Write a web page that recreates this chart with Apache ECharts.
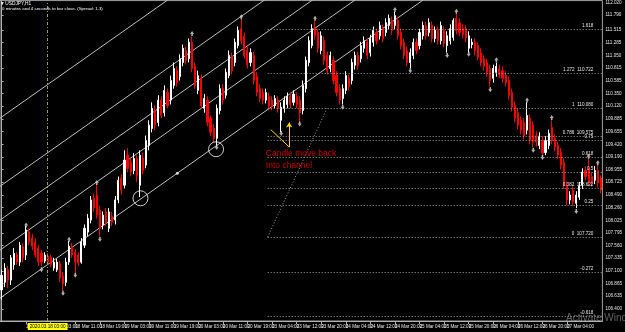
<!DOCTYPE html>
<html>
<head>
<meta charset="utf-8">
<title>USDJPY,H1</title>
<script src="https://cdn.jsdelivr.net/npm/echarts@6/dist/echarts.min.js"></script>
<style>
  html, body { margin: 0; padding: 0; background: #000; }
  #chart { width: 625px; height: 332px; }
</style>
</head>
<body>
<div id="chart"></div>
<script>
// USDJPY H1, 17 Mar 2020 11:00 .. 27 Mar 2020, [open, close, low, high]
var candles = [
  [106.75,107.02,106.57,107.12],[106.89,107.15,106.80,107.24],[107.12,106.93,106.78,107.19],[106.93,107.34,106.84,107.39],
  [107.21,107.42,107.12,107.52],[107.39,107.26,107.21,107.44],[107.26,107.57,107.19,107.63],[107.54,107.34,107.26,107.61],
  [107.39,107.85,107.30,107.92],[107.81,107.63,107.57,107.88],[107.70,107.55,107.48,107.77],[107.63,107.39,107.34,107.70],
  [107.52,107.26,107.19,107.57],[107.42,107.26,107.19,107.48],[107.28,107.39,107.24,107.44],[107.37,107.26,107.22,107.42],
  [107.34,107.22,107.17,107.39],[107.15,107.26,107.10,107.34],[107.12,107.26,107.08,107.32],[107.23,106.97,106.89,107.28],
  [107.00,106.86,106.73,107.08],[106.89,107.26,106.82,107.34],[107.26,107.55,107.21,107.65],[107.54,107.39,107.34,107.61],
  [107.44,107.26,107.06,107.50],[107.39,107.24,107.19,107.44],[107.26,107.63,107.23,107.70],[107.57,107.88,107.52,107.95],
  [107.81,108.06,107.74,108.14],[108.03,108.40,107.97,108.47],[108.43,108.25,108.18,108.52],[108.49,108.12,108.06,108.69],
  [108.21,107.88,107.74,108.29],[107.94,108.12,107.86,108.19],[108.18,107.99,107.92,108.25],[107.88,108.18,107.81,108.25],
  [108.10,107.99,107.92,108.18],[108.03,108.40,107.95,108.47],[108.40,108.76,108.34,108.83],[108.80,108.58,108.50,108.87],
  [108.67,109.13,108.61,109.31],[109.22,108.98,108.91,109.35],[109.09,108.91,108.83,109.16],[108.94,109.16,108.87,109.26],
  [109.16,108.85,108.73,109.22],[108.67,109.22,108.45,109.31],[109.16,108.94,108.87,109.27],[109.04,109.49,108.98,109.58],
  [109.40,109.77,109.31,109.86],[109.71,110.08,109.64,110.19],[110.04,109.77,109.68,110.13],[109.82,110.23,109.75,110.32],
  [110.23,109.95,109.90,110.30],[110.00,110.41,109.93,110.50],[110.37,110.13,110.08,110.44],[110.23,110.59,110.15,110.68],
  [110.50,110.81,110.44,110.92],[110.77,110.55,110.48,110.85],[110.66,110.99,110.59,111.07],[110.92,111.18,110.85,111.25],
  [111.14,110.96,110.88,111.21],[110.99,111.29,110.92,111.36],[111.29,110.81,110.74,111.40],[110.85,110.50,110.44,110.92],
  [110.41,110.68,110.34,110.77],[110.63,110.13,110.08,110.70],[110.08,110.26,110.00,110.34],[110.23,109.82,109.75,110.30],
  [109.90,109.64,109.57,109.95],[109.71,109.53,109.46,109.79],[109.53,110.08,109.38,110.15],[110.04,110.44,109.97,110.52],
  [110.44,110.23,110.15,110.52],[110.32,110.74,110.26,110.81],[110.68,111.05,110.63,111.14],[111.03,110.77,110.70,111.10],
  [110.92,111.29,110.85,111.36],[111.23,111.51,111.18,111.58],[111.54,111.32,111.25,111.73],[111.40,111.05,110.99,111.47],
  [111.14,110.88,110.81,111.21],[110.92,111.10,110.85,111.18],[111.05,110.59,110.52,111.12],[110.66,110.37,110.30,110.74],
  [110.44,110.26,110.19,110.52],[110.37,110.23,110.15,110.44],[110.23,110.37,110.17,110.44],[110.30,110.12,110.04,110.37],
  [110.23,110.12,110.04,110.30],[110.13,110.26,110.08,110.32],[110.23,110.08,110.00,110.30],[109.86,110.10,109.64,110.19],
  [110.08,110.23,110.00,110.30],[110.15,110.30,110.08,110.37],[110.30,110.15,110.08,110.37],[110.19,110.34,110.13,110.41],
  [110.30,110.15,110.08,110.37],[110.23,110.00,109.82,110.30],[110.04,110.50,109.97,110.59],[110.44,110.96,110.37,111.03],
  [110.92,111.32,110.85,111.40],[111.23,111.54,111.18,111.62],[111.54,111.41,111.34,111.69],[111.47,111.18,111.10,111.54],
  [111.14,111.41,111.07,111.49],[111.32,110.96,110.88,111.40],[111.05,110.77,110.70,111.12],[110.81,111.05,110.74,111.12],
  [110.96,110.59,110.52,111.03],[110.68,110.37,110.30,110.76],[110.44,110.23,110.15,110.52],[110.26,110.44,110.15,110.52],
  [110.41,110.68,110.34,110.76],[110.63,110.48,110.41,110.70],[110.59,110.92,110.52,110.99],[110.87,111.05,110.79,111.12],
  [111.05,110.87,110.79,111.12],[110.99,111.23,110.92,111.30],[111.18,111.32,111.10,111.40],[111.29,111.05,110.98,111.36],
  [111.10,111.36,111.03,111.43],[111.29,111.51,111.21,111.58],[111.47,111.32,111.25,111.54],[111.41,111.60,111.34,111.67],
  [111.54,111.36,111.29,111.62],[111.47,111.65,111.40,111.73],[111.60,111.73,111.53,111.80],[111.69,111.51,111.43,111.76],
  [111.60,111.78,111.53,111.85],[111.69,111.41,111.34,111.76],[111.47,111.23,111.16,111.54],[111.29,111.05,110.98,111.36],
  [111.14,110.92,110.85,111.21],[110.92,111.10,110.81,111.18],[111.05,111.29,110.98,111.36],[111.29,111.14,111.07,111.36],
  [111.23,111.47,111.16,111.54],[111.41,111.60,111.34,111.67],[111.60,111.41,111.34,111.67],[111.47,111.65,111.40,111.73],
  [111.60,111.36,111.29,111.67],[111.36,111.51,111.29,111.58],[111.51,111.32,111.25,111.58],[111.32,111.60,111.25,111.67],
  [111.51,111.27,111.20,111.58],[111.23,111.41,111.10,111.49],[111.32,111.54,111.25,111.62],[111.38,111.69,111.32,111.73],
  [111.73,111.51,111.43,111.82],[111.65,111.47,111.40,111.73],[111.54,111.43,111.36,111.62],[111.54,111.38,111.29,111.60],
  [111.18,111.41,111.10,111.49],[111.25,111.29,111.18,111.36],[111.29,111.14,111.05,111.36],[111.23,111.01,110.96,111.29],
  [111.10,110.92,110.85,111.18],[110.99,110.85,110.77,111.05],[110.92,110.74,110.66,110.99],[110.81,110.59,110.48,110.88],
  [110.63,110.81,110.55,110.88],[110.74,110.85,110.66,110.92],[110.81,110.70,110.63,110.88],[110.77,110.63,110.55,110.85],
  [110.68,110.55,110.48,110.76],[110.59,110.32,110.24,110.66],[110.37,110.10,110.02,110.44],[110.13,109.90,109.82,110.21],
  [110.00,109.77,109.70,110.08],[109.86,109.68,109.60,109.93],[109.82,109.58,109.51,109.90],[109.68,109.95,109.60,110.19],
  [109.90,109.49,109.42,109.97],[109.77,109.46,109.37,109.84],[109.58,109.46,109.38,109.66],[109.40,109.57,109.33,109.64],
  [109.49,109.26,109.22,109.57],[109.27,109.49,109.22,109.57],[109.40,109.62,109.33,109.69],[109.73,109.49,109.42,109.86],
  [109.53,109.37,109.29,109.60],[109.40,109.22,109.15,109.47],[109.27,109.04,108.96,109.35],[109.09,108.67,108.60,109.16],
  [108.67,108.40,108.30,108.74],[108.40,108.49,108.32,108.56],[108.58,108.36,108.29,108.65],[108.34,108.49,108.25,108.56],
  [108.45,108.65,108.40,108.73],[108.67,108.91,108.60,108.98],[108.94,108.83,108.76,109.02],[108.98,108.73,108.65,109.16],
  [108.83,108.73,108.65,108.91],[108.76,108.94,108.69,109.02],[108.94,108.71,108.63,109.04],[108.80,108.58,108.52,108.85]
];

// time scale labels: [bar index, text]
var timeTicks = [
  [0,'17 Mar 2020'],[8,'17 Mar 19:00'],[16,'18 Mar 03:00'],[24,'18 Mar 11:00'],[32,'18 Mar 19:00'],
  [40,'19 Mar 03:00'],[48,'19 Mar 11:00'],[56,'19 Mar 19:00'],[64,'20 Mar 03:00'],[72,'20 Mar 11:00'],
  [80,'20 Mar 19:00'],[88,'23 Mar 04:00'],[96,'23 Mar 12:00'],[104,'23 Mar 20:00'],[112,'24 Mar 04:00'],
  [120,'24 Mar 12:00'],[128,'24 Mar 20:00'],[136,'25 Mar 04:00'],[144,'25 Mar 12:00'],[152,'25 Mar 20:00'],
  [160,'26 Mar 04:00'],[168,'26 Mar 12:00'],[176,'26 Mar 20:00'],[184,'27 Mar 04:00'],[192,'27 Mar 12:00']
];
var priceTicks = [106.400,106.635,106.865,107.100,107.335,107.560,107.795,108.025,108.260,108.490,108.725,
  108.955,109.190,109.420,109.655,109.885,110.120,110.350,110.585,110.815,111.050,111.285,111.515,111.790,112.020];

// fractals [bar, price]
var upFractals = [[8,107.94],[22,107.68],[31,108.72],[62,111.45],[78,111.76],[102,111.73],[128,111.89],
  [148,111.86],[161,110.97],[171,110.23],[179,109.91],[191,109.20],[194,109.08]];
var downFractals = [[13,107.12],[20,106.69],[24,107.02],[32,107.68],[70,109.36],[91,109.62],[97,109.79],
  [111,110.10],[133,110.77],[145,111.05],[152,111.07],[159,110.42],[173,109.31],[176,109.18],[187,108.19]];

// parallel channel rays, two anchors each [bar, price]
var channelLines = [
  [[-1,106.58],[200,114.56]],
  [[-1,107.46],[200,115.44]],
  [[-1,108.01],[200,115.99]],
  [[-1,108.63],[200,116.61]],
  [[-1,109.88],[200,117.86]]
];
var channelDots = [[57.2,108.89]];
var circleMarks = [[45.2,108.43],[69.8,109.33]];

// fibonacci retracement
var fibFrom = [86.6,107.72];
var fibTo = [105.9,110.08];
var fibLevels = [-0.618,-0.272,0,0.25,0.382,0.5,0.618,0.75,0.786,1,1.272,1.618];
var fibPriced = [0,0.382,0.786,1,1.272];

var separatorBar = 15;
var separatorText = '2020.03.18 03:00';
var arrowLeg = [[87.6,109.69],[93.6,109.37]];
var arrowUp = [[93.6,109.37],[93.6,109.82]];
var notePoint = [86,109.13];

var tickMap = {};
timeTicks.forEach(function (t) { tickMap[t[0]] = t[1]; });
var lastClose = candles[candles.length - 1][1];
var barCount = candles.length;

var font = 'Liberation Sans';
var txt = { fontFamily: font, fontSize: 4.6, color: '#e6e6e6' };

var fibRange = fibTo[1] - fibFrom[1];
var fibMarks = fibLevels.map(function (lv) {
  var p = fibFrom[1] + lv * fibRange;
  var name = fibPriced.indexOf(lv) >= 0 ? lv + '  ' + p.toFixed(3) : String(lv);
  return [{ name: name, coord: [fibFrom[0], p] }, { coord: [barCount - 0.5, p] }];
});

var chart = echarts.init(document.getElementById('chart'));
var option = {
  backgroundColor: '#000',
  animation: false,
  title: [
    { text: '\u25BE USDJPY,H1', left: 1, top: 1, padding: 0,
      textStyle: { fontFamily: font, fontSize: 4.8, color: '#fff', fontWeight: 'normal' } },
    { text: '0 minutes and 4 seconds to bar close. (Spread: 1.3)', left: 2, top: 7, padding: 0,
      textStyle: { fontFamily: font, fontSize: 4.4, color: '#fff', fontWeight: 'normal' } },
    { text: 'Activate Windows', left: 566, top: 313, padding: 0,
      textStyle: { fontFamily: font, fontSize: 10, color: 'rgba(190,190,190,0.5)', fontWeight: 'normal' } }
  ],
  grid: { left: 0, right: 17, top: 0, bottom: 11, show: true, borderColor: '#a0a0a0', borderWidth: 1 },
  xAxis: [{
    type: 'category',
    data: candles.map(function (c, i) { return i; }),
    boundaryGap: true,
    axisLine: { lineStyle: { color: '#b0b0b0' } },
    axisTick: { show: true, length: 3, alignWithLabel: true,
      interval: function (i) { return tickMap[i] !== undefined; },
      lineStyle: { color: '#b0b0b0' } },
    axisLabel: Object.assign({}, txt, {
      margin: 3, align: 'left',
      interval: function (i) { return tickMap[i] !== undefined; },
      formatter: function (v, i) { return tickMap[i] || ''; }
    }),
    splitLine: { show: false }
  }, {
    type: 'value', min: -0.5, max: barCount - 0.5, show: false
  }],
  yAxis: {
    type: 'value', position: 'right', min: 106.18, max: 112.055,
    axisLine: { show: true, lineStyle: { color: '#b0b0b0' } },
    axisTick: { show: true, length: 2, customValues: priceTicks, lineStyle: { color: '#b0b0b0' } },
    axisLabel: Object.assign({}, txt, { margin: 3, customValues: priceTicks,
      formatter: function (v) { return v.toFixed(3); } }),
    splitLine: { show: false }
  },
  series: [].concat(
    channelLines.map(function (l) {
      return { type: 'line', xAxisIndex: 1, data: l, showSymbol: false, clip: true, silent: true,
        lineStyle: { color: '#bdbdbd', width: 1 }, z: 1 };
    }),
    [{
      type: 'line', xAxisIndex: 1, data: [fibFrom, fibTo], showSymbol: false, silent: true,
      lineStyle: { color: '#a0a0a0', width: 1, type: [1, 2] }, z: 1,
      markLine: {
        silent: true, symbol: 'none', animation: false,
        lineStyle: { color: '#a0a0a0', width: 1, type: [1, 2] },
        label: Object.assign({}, txt, { position: 'insideEndTop', distance: [9, 1], formatter: '{b}' }),
        data: fibMarks
      }
    }, {
      type: 'candlestick', xAxisIndex: 0, data: candles, barWidth: 1.6, z: 3,
      itemStyle: { color: '#ffffff', color0: '#ff0000', borderColor: '#ffffff', borderColor0: '#ff0000', borderWidth: 1 },
      markLine: {
        silent: true, symbol: 'none', animation: false,
        data: [
          { xAxis: separatorBar,
            lineStyle: { color: '#a8a800', width: 1, type: [3, 2, 1, 2] },
            label: { show: true, position: 'start', distance: 2, formatter: separatorText,
              fontFamily: font, fontSize: 4.6, color: '#000', backgroundColor: '#ffff00', padding: [1, 2] } },
          { yAxis: lastClose,
            lineStyle: { opacity: 0 },
            label: { show: true, position: 'end', distance: 1,
              formatter: function (p) { return p.value.toFixed(3); },
              fontFamily: font, fontSize: 4.6, color: '#000', backgroundColor: '#ffffff', padding: [1, 1] } }
        ]
      }
    }, {
      type: 'scatter', xAxisIndex: 1, data: upFractals, silent: true, z: 4,
      symbol: 'path://M5,0 L10,6 L7,6 L7,10 L3,10 L3,6 L0,6 Z', symbolSize: [4, 5],
      itemStyle: { color: '#d8d8d8' }
    }, {
      type: 'scatter', xAxisIndex: 1, data: downFractals, silent: true, z: 4,
      symbol: 'path://M5,0 L10,6 L7,6 L7,10 L3,10 L3,6 L0,6 Z', symbolSize: [4, 5], symbolRotate: 180,
      itemStyle: { color: '#d8d8d8' }
    }, {
      type: 'scatter', xAxisIndex: 1, data: circleMarks, silent: true, z: 5,
      symbol: 'circle', symbolSize: 15,
      itemStyle: { color: 'rgba(0,0,0,0)', borderColor: '#ffffff', borderWidth: 1 }
    }, {
      type: 'scatter', xAxisIndex: 1, data: channelDots, silent: true, z: 5,
      symbol: 'circle', symbolSize: 3, itemStyle: { color: '#ffffff' }
    }, {
      type: 'lines', coordinateSystem: 'cartesian2d', xAxisIndex: 1, silent: true, z: 6,
      lineStyle: { color: '#ffd700', width: 1, opacity: 1 },
      data: [{ coords: arrowLeg }]
    }, {
      type: 'lines', coordinateSystem: 'cartesian2d', xAxisIndex: 1, silent: true, z: 6,
      symbol: ['none', 'arrow'], symbolSize: 5,
      lineStyle: { color: '#ffd700', width: 1, opacity: 1 },
      data: [{ coords: arrowUp }]
    }, {
      type: 'scatter', xAxisIndex: 1, data: [notePoint], symbolSize: 0, silent: true, z: 6,
      label: { show: true, position: 'inside', align: 'left', verticalAlign: 'middle',
        formatter: 'Candle move back\nInto channel', fontFamily: font, fontSize: 8.5,
        lineHeight: 12, color: '#ff0000' }
    }]
  )
};
chart.setOption(option);
</script>
</body>
</html>
